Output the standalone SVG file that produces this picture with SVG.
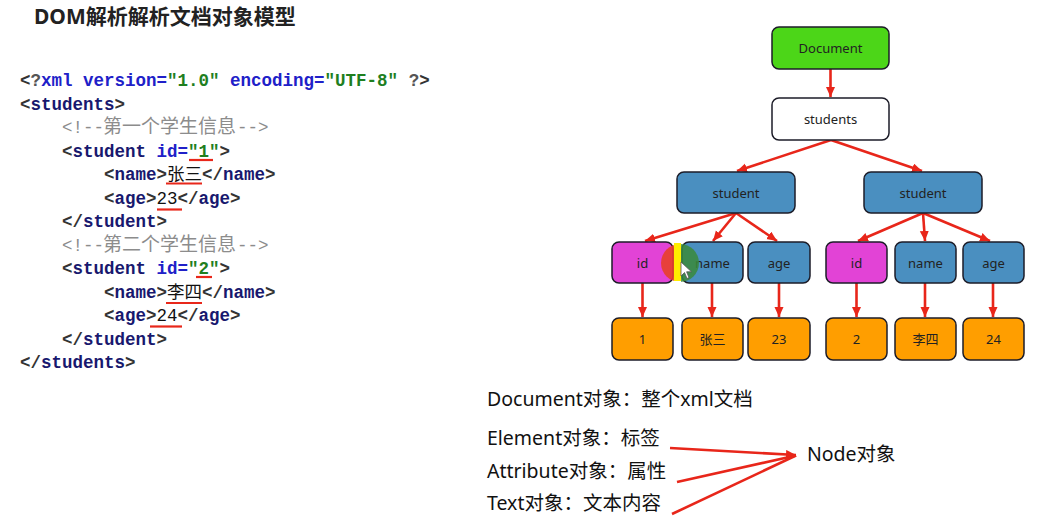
<svg xmlns="http://www.w3.org/2000/svg" width="1053" height="524" viewBox="0 0 1053 524">
<style>
.title{font-family:"Noto Sans","Noto Sans CJK SC",sans-serif;font-weight:bold;font-size:21px;fill:#222}
.c{font-family:"Liberation Mono","Noto Sans CJK SC",monospace;font-weight:bold;font-size:17.5px;fill:#333}
.t{fill:#18186e}
.a{fill:#2020c8}
.s{fill:#1f7f1f}
.x{font-weight:normal;fill:#111}
.cm{font-weight:normal;fill:#8c8c8c}
.ul{stroke:#e8271a;stroke-width:2.2;fill:none}
.box{stroke:#1c1c28;stroke-width:1.5}
.doc{fill:#4cd618}
.wht{fill:#fff}
.blu{fill:#4a8fc0}
.mag{fill:#e243d6}
.org{fill:#ff9e00}
.lbl{font-family:"Noto Sans","Noto Sans CJK SC",sans-serif;font-size:13px;fill:#222;text-anchor:middle}
.conn{stroke:#e8261a;stroke-width:2.6;fill:none}
.desc{font-family:"Noto Sans","Noto Sans CJK SC",sans-serif;font-size:19.5px;fill:#111}
</style>
<defs>
<marker id="ah" markerUnits="userSpaceOnUse" markerWidth="12" markerHeight="10" refX="10" refY="4.5" orient="auto">
<path d="M0,0 L10,4.5 L0,9 z" fill="#e8261a"/>
</marker>
<clipPath id="cc"><circle cx="680" cy="263" r="19"/></clipPath>
</defs>
<rect width="1053" height="524" fill="#fff"/>

<text class="title" x="34" y="24">DOM解析解析文档对象模型</text>

<g id="code">
<text class="c" x="20" y="86" xml:space="preserve">&lt;<tspan fill="#555">?</tspan><tspan class="a">xml version=</tspan><tspan class="s">"1.0"</tspan><tspan class="a"> encoding=</tspan><tspan class="s">"UTF-8"</tspan> <tspan fill="#555">?</tspan>&gt;</text>
<text class="c" x="20" y="109.5">&lt;<tspan class="t">students</tspan>&gt;</text>
<text class="c cm" x="62" y="133">&lt;!--<tspan x="103" font-size="19">第一个学生信息</tspan><tspan x="237">--&gt;</tspan></text>
<text class="c" x="62" y="156.5" xml:space="preserve">&lt;<tspan class="t">student</tspan><tspan class="a"> id=</tspan><tspan class="s">"1"</tspan>&gt;</text>
<text class="c" x="104" y="180">&lt;<tspan class="t">name</tspan>&gt;<tspan class="x">张三</tspan>&lt;/<tspan class="t">name</tspan>&gt;</text>
<text class="c" x="104" y="203.5">&lt;<tspan class="t">age</tspan>&gt;<tspan class="x">23</tspan>&lt;/<tspan class="t">age</tspan>&gt;</text>
<text class="c" x="62" y="227">&lt;/<tspan class="t">student</tspan>&gt;</text>
<text class="c cm" x="62" y="250.5">&lt;!--<tspan x="103" font-size="19">第二个学生信息</tspan><tspan x="237">--&gt;</tspan></text>
<text class="c" x="62" y="274" xml:space="preserve">&lt;<tspan class="t">student</tspan><tspan class="a"> id=</tspan><tspan class="s">"2"</tspan>&gt;</text>
<text class="c" x="104" y="297.5">&lt;<tspan class="t">name</tspan>&gt;<tspan class="x">李四</tspan>&lt;/<tspan class="t">name</tspan>&gt;</text>
<text class="c" x="104" y="321">&lt;<tspan class="t">age</tspan>&gt;<tspan class="x">24</tspan>&lt;/<tspan class="t">age</tspan>&gt;</text>
<text class="c" x="62" y="344.5">&lt;/<tspan class="t">student</tspan>&gt;</text>
<text class="c" x="20" y="368">&lt;/<tspan class="t">students</tspan>&gt;</text>
<g id="underlines">
<line class="ul" x1="189" y1="160" x2="213" y2="160"/>
<line class="ul" x1="166" y1="183.5" x2="202" y2="183.5"/>
<line class="ul" x1="157" y1="209.5" x2="182" y2="209.5"/>
<line class="ul" x1="196" y1="277" x2="212" y2="277"/>
<line class="ul" x1="166" y1="303" x2="202" y2="303"/>
<line class="ul" x1="150" y1="326.5" x2="182" y2="326.5"/>
</g>
</g>

<g id="connectors">
<line class="conn" x1="830.5" y1="69" x2="830.5" y2="97" marker-end="url(#ah)"/>
<line class="conn" x1="831" y1="140" x2="737" y2="171" marker-end="url(#ah)"/>
<line class="conn" x1="831" y1="140" x2="922" y2="171" marker-end="url(#ah)"/>
<line class="conn" x1="736" y1="213" x2="645" y2="241" marker-end="url(#ah)"/>
<line class="conn" x1="736" y1="213" x2="713" y2="241" marker-end="url(#ah)"/>
<line class="conn" x1="736" y1="213" x2="777" y2="241" marker-end="url(#ah)"/>
<line class="conn" x1="923" y1="213" x2="858" y2="241" marker-end="url(#ah)"/>
<line class="conn" x1="923" y1="213" x2="925" y2="241" marker-end="url(#ah)"/>
<line class="conn" x1="923" y1="213" x2="990" y2="241" marker-end="url(#ah)"/>
<line class="conn" x1="642.5" y1="283" x2="642.5" y2="317" marker-end="url(#ah)"/>
<line class="conn" x1="712" y1="283" x2="712" y2="317" marker-end="url(#ah)"/>
<line class="conn" x1="779" y1="283" x2="779" y2="317" marker-end="url(#ah)"/>
<line class="conn" x1="856.5" y1="283" x2="856.5" y2="317" marker-end="url(#ah)"/>
<line class="conn" x1="925" y1="283" x2="925" y2="317" marker-end="url(#ah)"/>
<line class="conn" x1="993" y1="283" x2="993" y2="317" marker-end="url(#ah)"/>
<line class="conn" x1="670" y1="448" x2="796" y2="455" marker-end="url(#ah)"/>
<line class="conn" x1="677" y1="482" x2="796" y2="455.5"/>
<line class="conn" x1="672" y1="514" x2="796" y2="455.5"/>
</g>

<g id="node-document"><rect class="box doc" x="772" y="27" width="117" height="42" rx="7"/><text class="lbl" x="830.5" y="53">Document</text></g>
<g id="node-students"><rect class="box wht" x="772" y="98" width="117" height="42" rx="7"/><text class="lbl" x="830.5" y="124">students</text></g>
<g id="node-student1"><rect class="box blu" x="677" y="172" width="118" height="41" rx="7"/><text class="lbl" x="736" y="197.5">student</text></g>
<g id="node-student2"><rect class="box blu" x="864" y="172" width="118" height="41" rx="7"/><text class="lbl" x="923" y="197.5">student</text></g>
<g id="node-id1"><rect class="box mag" x="612" y="242" width="61" height="41" rx="7"/><text class="lbl" x="642.5" y="267.5">id</text></g>
<g id="node-name1"><rect class="box blu" x="682" y="242" width="61" height="41" rx="7"/><text class="lbl" x="712.5" y="267.5">name</text></g>
<g id="node-age1"><rect class="box blu" x="748" y="242" width="62" height="41" rx="7"/><text class="lbl" x="779" y="267.5">age</text></g>
<g id="node-id2"><rect class="box mag" x="826" y="242" width="61" height="41" rx="7"/><text class="lbl" x="856.5" y="267.5">id</text></g>
<g id="node-name2"><rect class="box blu" x="895" y="242" width="61" height="41" rx="7"/><text class="lbl" x="925.5" y="267.5">name</text></g>
<g id="node-age2"><rect class="box blu" x="963" y="242" width="61" height="41" rx="7"/><text class="lbl" x="993.5" y="267.5">age</text></g>
<g id="node-v1"><rect class="box org" x="612" y="318" width="61" height="42" rx="7"/><text class="lbl" x="642.5" y="344">1</text></g>
<g id="node-v2"><rect class="box org" x="682" y="318" width="61" height="42" rx="7"/><text class="lbl" x="712.5" y="344">张三</text></g>
<g id="node-v3"><rect class="box org" x="748" y="318" width="62" height="42" rx="7"/><text class="lbl" x="779" y="344">23</text></g>
<g id="node-v4"><rect class="box org" x="826" y="318" width="61" height="42" rx="7"/><text class="lbl" x="856.5" y="344">2</text></g>
<g id="node-v5"><rect class="box org" x="895" y="318" width="61" height="42" rx="7"/><text class="lbl" x="925.5" y="344">李四</text></g>
<g id="node-v6"><rect class="box org" x="963" y="318" width="61" height="42" rx="7"/><text class="lbl" x="993.5" y="344">24</text></g>

<g id="cursor-highlight">
<rect x="674" y="243" width="7" height="38" fill="#ffee00"/>
<g clip-path="url(#cc)">
<rect x="660" y="243" width="14" height="40" fill="#e8402a" opacity="0.9"/>
<rect x="681" y="243" width="20" height="40" fill="#3a8a3a" opacity="0.85"/>
</g>
<path d="M681,262 L681,276 L684.5,272.5 L687,278.5 L689,277.6 L686.6,271.8 L691.5,271.8 Z" fill="#fff" stroke="#555" stroke-width="0.8"/>
</g>

<g id="descriptions">
<text class="desc" x="487" y="406">Document对象：整个xml文档</text>
<text class="desc" x="487" y="445">Element对象：标签</text>
<text class="desc" x="487" y="478">Attribute对象：属性</text>
<text class="desc" x="487" y="510">Text对象：文本内容</text>
<text class="desc" x="807" y="461" font-size="20">Node对象</text>
</g>
</svg>
